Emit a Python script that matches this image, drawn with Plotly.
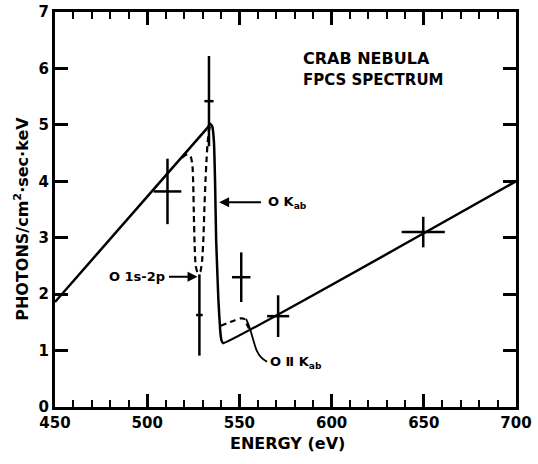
import plotly.graph_objects as go

# Model continuum with the O K absorption edge (solid)
model_energy = [450, 533.0, 534.2, 535.3, 536.2, 536.8, 537.4, 538.6, 539.6, 540.3, 541.2, 700]
model_flux = [1.86, 4.96, 5.02, 4.97, 4.7, 4.0, 2.95, 1.9, 1.35, 1.18, 1.13, 4.0]

# Alternative model with the O 1s-2p line (dashed, below the edge)
line_energy = [519, 521, 522.6, 523.8, 524.6, 525.0, 525.3, 525.7, 526.3, 527.5, 528.8,
               529.8, 530.5, 531.0, 531.6, 532.2, 532.8, 533.5, 534.3]
line_flux = [4.42, 4.47, 4.47, 4.42, 4.25, 3.9, 3.4, 2.9, 2.5, 2.37, 2.4,
             2.6, 3.0, 3.5, 4.0, 4.4, 4.7, 4.9, 5.0]

# Alternative model with the O II K edge (dashed, above the edge)
oii_energy = [539.9, 543, 547, 550.5, 552.6, 553.8, 555.2]
oii_flux = [1.44, 1.48, 1.53, 1.57, 1.56, 1.48, 1.39]

# FPCS measurements
data_energy = [511, 533.5, 528.3, 551, 571, 649.7]
data_flux = [3.82, 5.42, 1.63, 2.3, 1.61, 3.1]
data_err_flux = [0.58, 0.8, 0.72, 0.44, 0.37, 0.27]
data_err_energy = [7.5, 2.5, 1.8, 5.0, 6.0, 11.7]

# Leader from the O II edge to its label
leader_energy = [553.6, 555.6, 557.4, 559.4, 561.8, 565.0]
leader_flux = [1.56, 1.4, 1.2, 1.0, 0.88, 0.8]

x_ticks = [450, 500, 550, 600, 650, 700]
y_ticks = [0, 1, 2, 3, 4, 5, 6, 7]

FONT = "DejaVu Sans"

fig = go.Figure()

fig.add_trace(go.Scatter(x=model_energy, y=model_flux, mode="lines",
                         line=dict(color="black", width=2.5, shape="spline", smoothing=0.3),
                         showlegend=False, hoverinfo="skip"))
fig.add_trace(go.Scatter(x=line_energy, y=line_flux, mode="lines",
                         line=dict(color="black", width=2.2, dash="6px,4px", shape="spline", smoothing=0.5),
                         showlegend=False, hoverinfo="skip"))
fig.add_trace(go.Scatter(x=oii_energy, y=oii_flux, mode="lines",
                         line=dict(color="black", width=2.2, dash="6px,4px", shape="spline", smoothing=0.6),
                         showlegend=False, hoverinfo="skip"))
fig.add_trace(go.Scatter(x=leader_energy, y=leader_flux, mode="lines",
                         line=dict(color="black", width=1.8, shape="spline"),
                         showlegend=False, hoverinfo="skip"))
fig.add_trace(go.Scatter(
    x=data_energy, y=data_flux, mode="markers",
    marker=dict(size=1, color="rgba(0,0,0,0)"),
    error_y=dict(type="data", array=data_err_flux, width=0, thickness=2.5, color="black"),
    error_x=dict(type="data", array=data_err_energy, width=0, thickness=2.5, color="black"),
    showlegend=False, hoverinfo="skip"))

annotations = [
    dict(x=0.505, y=-0.092, xref="paper", yref="paper", text="ENERGY (eV)",
         xanchor="center", yanchor="middle",
         showarrow=False, font=dict(family=FONT, size=16, weight="bold")),
    dict(x=-0.072, y=0.476, xref="paper", yref="paper",
         text="PHOTONS/cm<sup>2</sup>·sec·keV", textangle=-90,
         xanchor="center", yanchor="middle",
         showarrow=False, font=dict(family=FONT, size=16, weight="bold")),
    dict(x=583.5, y=6.18, text="CRAB NEBULA", xanchor="left", showarrow=False,
         font=dict(family=FONT, size=16, weight="bold")),
    dict(x=583.5, y=5.8, text="FPCS SPECTRUM", xanchor="left", showarrow=False,
         font=dict(family=FONT, size=15, weight="bold")),
    # O 1s-2p label with arrow
    dict(x=510.5, y=2.31, text="O 1s-2p", xanchor="right", showarrow=False,
         font=dict(family=FONT, size=13, weight="bold")),
    dict(x=527.3, y=2.31, ax=511, ay=2.31, axref="x", ayref="y", text="",
         showarrow=True, arrowhead=2, arrowsize=1, arrowwidth=2, arrowcolor="black"),
    # O K edge label with arrow
    dict(x=564.5, y=3.63, text="O K<sub>ab</sub>", xanchor="left", showarrow=False,
         font=dict(family=FONT, size=13, weight="bold")),
    dict(x=539.0, y=3.63, ax=562.5, ay=3.63, axref="x", ayref="y", text="",
         showarrow=True, arrowhead=2, arrowsize=1, arrowwidth=2, arrowcolor="black"),
    # O II K edge label
    dict(x=565.5, y=0.78, text="O Ⅱ K<sub>ab</sub>", xanchor="left", showarrow=False,
         font=dict(family=FONT, size=13, weight="bold")),
]

fig.update_layout(
    width=538, height=464,
    margin=dict(l=55, r=22, t=12, b=57),
    paper_bgcolor="white", plot_bgcolor="white",
    font=dict(family=FONT, color="black"),
    annotations=annotations,
    xaxis=dict(range=[450, 700], tickvals=x_ticks, ticktext=[str(v) for v in x_ticks],
               ticks="inside", ticklen=13, tickwidth=2.5, tickcolor="black",
               showline=True, linewidth=3, linecolor="black", mirror="allticks",
               showgrid=False, zeroline=False, automargin=False,
               tickfont=dict(family=FONT, size=15, weight="bold"),
               minor=dict(dtick=10, tick0=450, ticks="inside", ticklen=7, tickwidth=2,
                          tickcolor="black", showgrid=False)),
    yaxis=dict(range=[0, 7], tickvals=y_ticks, ticktext=[str(v) for v in y_ticks],
               ticks="inside", ticklen=13, tickwidth=2.5, tickcolor="black",
               showline=True, linewidth=3, linecolor="black", mirror="allticks",
               showgrid=False, zeroline=False, automargin=False,
               tickfont=dict(family=FONT, size=15, weight="bold")),
)

fig.write_html("out.html")
